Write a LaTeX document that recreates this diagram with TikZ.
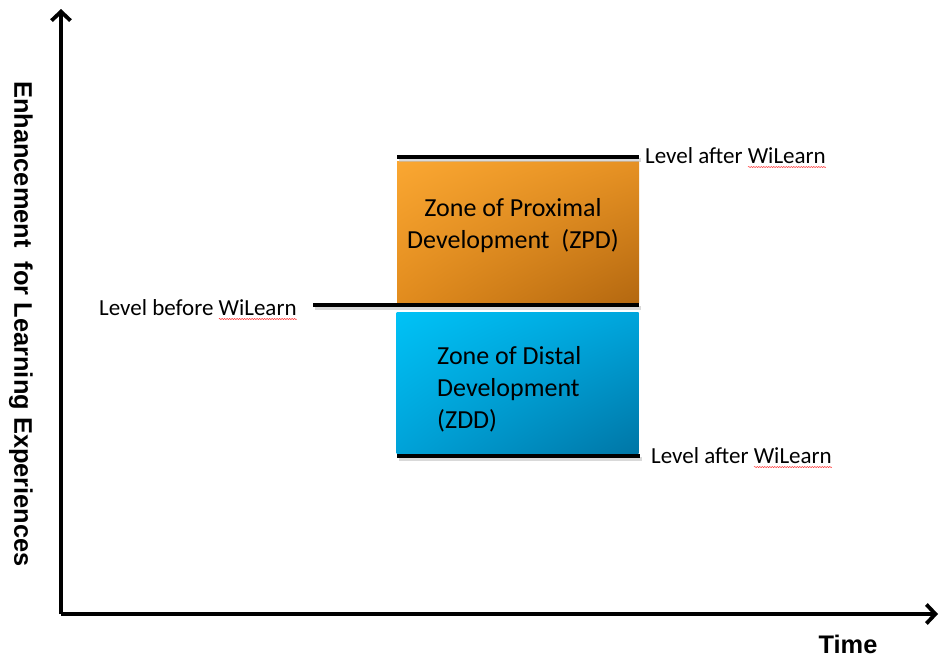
\documentclass[tikz,border=0pt]{standalone}
\usepackage{fontspec}
\setmainfont{Carlito}
\newfontfamily\axisfont{Liberation Sans}
\usetikzlibrary{arrows.meta,decorations.pathmorphing,shadings}
\definecolor{orUL}{RGB}{250,167,50}
\definecolor{orUR}{RGB}{230,145,35}
\definecolor{orLL}{RGB}{226,140,30}
\definecolor{orLR}{RGB}{180,104,16}
\definecolor{blUL}{RGB}{0,194,246}
\definecolor{blUR}{RGB}{0,165,220}
\definecolor{blLL}{RGB}{0,162,216}
\definecolor{blLR}{RGB}{0,118,166}
\newcommand\squigword[1]{\setbox0\hbox{#1}\rlap{\copy0}\raisebox{-4pt}{\tikz[baseline=0pt]\draw[red!80!white,line width=0.5pt,decorate,decoration={snake,amplitude=0.6pt,segment length=2.5pt}] (0pt,0pt)--(\wd0,0pt);}}
\begin{document}
\begin{tikzpicture}[x=1pt,y=-1pt,
  axis/.style={line width=3.8pt,-{Straight Barb[length=9pt,width=19pt,line width=3.8pt]}},
  level/.style={line width=4pt,line cap=butt},
  lshadow/.style={line width=4pt,draw=black!25,opacity=0.6},
  zone/.style={draw=none,minimum width=242pt,minimum height=141pt,inner sep=0pt},
  lbl/.style={font=\fontsize{23}{27}\selectfont,anchor=base west,inner sep=0pt},
  ztext/.style={font=\fontsize{26}{31}\selectfont,inner sep=0pt},
  atext/.style={font=\axisfont\bfseries\fontsize{25.4}{30}\selectfont,inner sep=0pt}]
\useasboundingbox (0,0) rectangle (939,657);
% zones
\node[zone,upper left=orUL,upper right=orUR,lower left=orLL,lower right=orLR] (zpd) at (518,231.5) {};
\node[zone,upper left=blUL,upper right=blUR,lower left=blLL,lower right=blLR] (zdd) at (517.5,382.5) {};
% level line coordinates
\coordinate (t1) at (397,157); \coordinate (t2) at (639,157);
\coordinate (m1) at (313,305); \coordinate (m2) at (639,305);
\coordinate (b1) at (397,456); \coordinate (b2) at (640,456);
\coordinate (ts1) at (399,160); \coordinate (ts2) at (641,160);
\coordinate (ms1) at (315,308); \coordinate (ms2) at (641,308);
\coordinate (bs1) at (399,459); \coordinate (bs2) at (642,459);
\draw[lshadow] (ts1) -- (ts2);
\draw[lshadow] (ms1) -- (ms2);
\draw[lshadow] (bs1) -- (bs2);
\draw[level] (t1) -- (t2);
\draw[level] (m1) -- (m2);
\draw[level] (b1) -- (b2);
% axes
\coordinate (o) at (61,614);
\coordinate (ytip) at (61,9);
\coordinate (xtip) at (938,614);
\draw[axis] (o) -- (ytip);
\draw[axis] (o) -- (xtip);
% labels
\node[lbl] (la1) at (645,163) {Level after \squigword{WiLearn}};
\node[lbl] (la2) at (651,463) {Level after \squigword{WiLearn}};
\node[lbl] (lb) at (99,315) {Level before \squigword{WiLearn}};
% zone texts
\node[ztext,anchor=base] (zp1) at (513,216) {Zone of Proximal};
\node[ztext,anchor=base] (zp2) at (513,248) {Development\ \ (ZPD)};
\node[ztext,anchor=base west] (zd1) at (437,364) {Zone of Distal};
\node[ztext,anchor=base west] (zd2) at (437,396) {Development};
\node[ztext,anchor=base west] (zd3) at (437,428) {(ZDD)};
% axis titles
\node[atext,anchor=base] (time) at (848,653) {Time};
\node[atext,rotate=-90] (ylab) at (21,324) {Enhancement\ \ for Learning Experiences};
\end{tikzpicture}
\end{document}
